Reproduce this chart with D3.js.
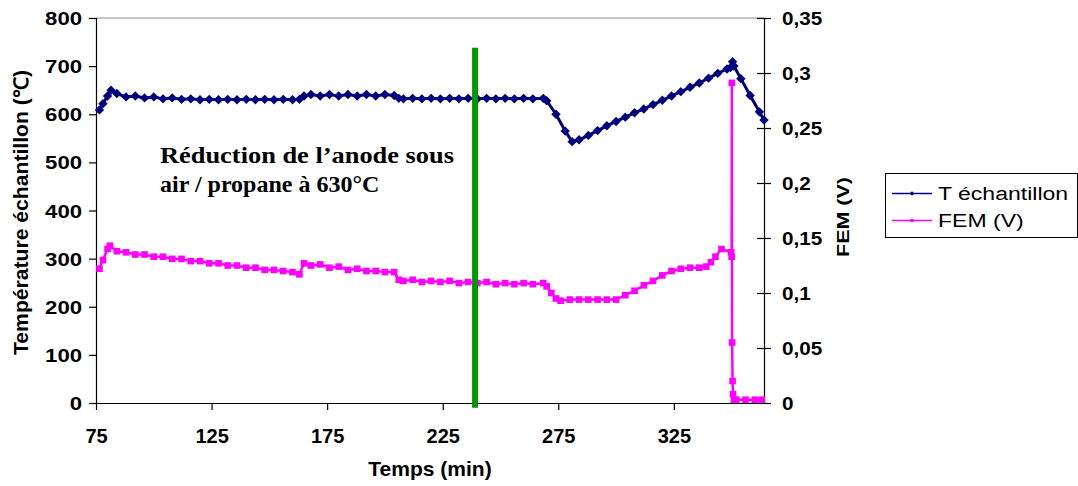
<!DOCTYPE html>
<html>
<head>
<meta charset="utf-8">
<script src="https://cdn.jsdelivr.net/npm/d3@7"></script>
<style>
    body { margin: 0; background: #fff; }
    svg { display: block; }
    .axis text { font-family: Arial, "Liberation Sans", sans-serif; font-weight: bold; }
</style>
</head>
<body>
<script>
// temps (min) et température échantillon (°C)
const tempTime = [76.5, 78, 80, 81.5, 84, 88, 92, 96, 100, 104, 108, 112, 116, 120, 124, 128, 132, 136, 140, 144, 148, 152, 156, 160, 163, 165, 168, 172, 176, 180, 184, 188, 192, 196, 200, 204, 206, 208, 212, 216, 220, 224, 228, 232, 236, 240, 244, 248, 252, 256, 260, 264, 268.5, 270, 274, 278, 281, 284, 288, 292, 296, 300, 304, 308, 312, 316, 320, 324, 328, 332, 336, 340, 344, 348, 349.5, 350.4, 351, 354, 358, 362, 364];
const tempValues = [609, 622, 638, 650, 643, 636, 638, 634, 636, 632, 634, 631, 632, 630, 631, 630, 631, 630, 631, 630, 631, 630, 631, 630, 631, 638, 641, 638, 641, 638, 641, 638, 641, 638, 641, 639, 633, 632, 633, 632, 633, 632, 633, 632, 633, 632, 633, 632, 633, 632, 633, 632, 633, 628, 600, 565, 543, 547, 556, 566, 576, 585, 594, 603, 611, 620, 629, 638, 647, 656, 665, 675, 685, 694, 697, 709, 700, 674, 639, 605, 588];

// temps (min) et FEM (V)
const femTime = [76.5, 78, 80, 81, 84, 88, 92, 96, 100, 104, 108, 112, 116, 120, 124, 128, 132, 136, 140, 144, 148, 152, 156, 160, 163, 165, 168, 172, 176, 180, 184, 188, 192, 196, 200, 204, 206, 208, 212, 216, 220, 224, 228, 232, 236, 240, 244, 248, 252, 256, 260, 264, 268.5, 270, 272, 274, 276, 280, 284, 288, 292, 296, 300, 304, 308, 312, 316, 320, 324, 328, 332, 336, 339, 341, 343, 345.6, 349.8, 350, 350.1, 350.2, 350.4, 350.6, 351, 352, 356, 360, 363];
const femValues = [0.122, 0.130, 0.140, 0.143, 0.138, 0.137, 0.135, 0.135, 0.133, 0.133, 0.131, 0.131, 0.129, 0.129, 0.127, 0.127, 0.125, 0.125, 0.123, 0.123, 0.121, 0.121, 0.120, 0.119, 0.117, 0.127, 0.125, 0.126, 0.123, 0.124, 0.121, 0.122, 0.120, 0.120, 0.119, 0.119, 0.112, 0.111, 0.112, 0.110, 0.111, 0.110, 0.111, 0.109, 0.110, 0.109, 0.110, 0.108, 0.109, 0.108, 0.109, 0.108, 0.109, 0.106, 0.100, 0.095, 0.093, 0.094, 0.094, 0.094, 0.094, 0.094, 0.094, 0.098, 0.102, 0.107, 0.111, 0.116, 0.120, 0.122, 0.123, 0.123, 0.124, 0.128, 0.133, 0.140, 0.137, 0.133, 0.291, 0.055, 0.020, 0.008, 0.003, 0.003, 0.003, 0.003, 0.003];

// ticks
const xTicks = [75, 125, 175, 225, 275, 325];
const tempTicks = [0, 100, 200, 300, 400, 500, 600, 700, 800];
const femTicks = [0, 0.05, 0.1, 0.15, 0.2, 0.25, 0.3, 0.35];

// fin de la réduction (trait vert)
const markerTime = [239];
const markerRange = [-10, 738];

const seriesNames = ["T échantillon", "FEM (V)"];
const noteLines = ["Réduction de l’anode sous", "air / propane à 630°C"];

const W = 1078, H = 486;
const margin = { top: 18, right: 314, bottom: 83, left: 96 };
const w = W - margin.left - margin.right,
    h = H - margin.top - margin.bottom;

const svg = d3.select('body').append('svg')
    .attr('width', W)
    .attr('height', H);

const g = svg.append("g")
    .attr("transform", "translate(" + margin.left + "," + margin.top + ")");

const x = d3.scaleLinear().domain([75, 364]).range([0, w]);
const yT = d3.scaleLinear().domain([0, 800]).range([h, 0]);
const yF = d3.scaleLinear().domain([0, 0.35]).range([h, 0]);

const fmtFr = function (d) { return String(d).replace(".", ","); };

// bord haut de la zone de tracé
g.append("line")
    .attr("x1", 0).attr("x2", w).attr("y1", 0).attr("y2", 0)
    .attr("stroke", "#8c8c8c").attr("stroke-width", 1);

// axe gauche
const axL = g.append("g").attr("class", "axis")
    .call(d3.axisLeft(yT).tickValues(tempTicks).tickSize(7).tickFormat(d3.format("d")));
axL.selectAll("text")
    .attr("x", null).attr("dy", null).attr("text-anchor", "end")
    .attr("font-size", 18).attr("fill", "#000")
    .attr("transform", "translate(-14,6.5) scale(1.23,1)");

// axe droit (ticks croisés)
const axR = g.append("g").attr("class", "axis")
    .attr("transform", "translate(" + w + ",0)")
    .call(d3.axisRight(yF).tickValues(femTicks).tickSizeInner(7).tickSizeOuter(0).tickFormat(fmtFr));
axR.selectAll(".tick line").attr("x1", -7);
axR.selectAll("text")
    .attr("x", null).attr("dy", null).attr("text-anchor", "start")
    .attr("font-size", 18).attr("fill", "#000")
    .attr("transform", "translate(18,6.5) scale(1.15,1)");

// axe bas
const axB = g.append("g").attr("class", "axis")
    .attr("transform", "translate(0," + h + ")")
    .call(d3.axisBottom(x).tickValues(xTicks).tickSizeInner(7).tickSizeOuter(0));
axB.selectAll("text")
    .attr("y", 40).attr("dy", null)
    .attr("font-size", 20).attr("fill", "#000");

g.selectAll(".axis path, .axis line").attr("stroke", "#000").attr("stroke-width", 1.2);

// titres d'axes
svg.append("text")
    .attr("transform", "translate(27.5," + (margin.top + h / 2 + 2) + ") rotate(-90)")
    .attr("text-anchor", "middle")
    .attr("textLength", 285).attr("lengthAdjust", "spacingAndGlyphs")
    .style("font", "bold 20px Arial, 'Liberation Sans', sans-serif")
    .text("Température échantillon (℃)");

svg.append("text")
    .attr("transform", "translate(849," + (margin.top + 199) + ") rotate(-90)")
    .attr("text-anchor", "middle")
    .attr("textLength", 80).attr("lengthAdjust", "spacingAndGlyphs")
    .style("font", "bold 17px Arial, 'Liberation Sans', sans-serif")
    .text("FEM (V)");

svg.append("text")
    .attr("x", margin.left + w / 2).attr("y", 476)
    .attr("text-anchor", "middle")
    .style("font", "bold 21px Arial, 'Liberation Sans', sans-serif")
    .text("Temps (min)");

// séries
const tempData = tempTime.map(function (t, i) { return [t, tempValues[i]]; });
const femData = femTime.map(function (t, i) { return [t, femValues[i]]; });

const lineT = d3.line()
    .x(function (d) { return x(d[0]); })
    .y(function (d) { return yT(d[1]); });
const lineF = d3.line()
    .x(function (d) { return x(d[0]); })
    .y(function (d) { return yF(d[1]); });

g.append("path").datum(femData)
    .attr("d", lineF).attr("fill", "none")
    .attr("stroke", "#ff00ff").attr("stroke-width", 2.5);
g.selectAll(".mF").data(femData).enter().append("path")
    .attr("class", "mF")
    .attr("d", d3.symbol().type(d3.symbolSquare).size(44))
    .attr("transform", function (d) { return "translate(" + x(d[0]) + "," + yF(d[1]) + ")"; })
    .attr("fill", "#ff00ff");

g.append("path").datum(tempData)
    .attr("d", lineT).attr("fill", "none")
    .attr("stroke", "#000080").attr("stroke-width", 3);
g.selectAll(".mT").data(tempData).enter().append("path")
    .attr("class", "mT")
    .attr("d", d3.symbol().type(d3.symbolSquare).size(44))
    .attr("transform", function (d) { return "translate(" + x(d[0]) + "," + yT(d[1]) + ") rotate(45)"; })
    .attr("fill", "#000080");

// trait vert
g.selectAll(".mark").data(markerTime).enter().append("line")
    .attr("x1", function (d) { return x(d); }).attr("x2", function (d) { return x(d); })
    .attr("y1", yT(markerRange[1])).attr("y2", yT(markerRange[0]))
    .attr("stroke", "#009900").attr("stroke-width", 6);

// annotation
svg.selectAll(".note").data(noteLines).enter().append("text")
    .attr("class", "note")
    .attr("x", 160)
    .attr("y", function (d, i) { return 163 + i * 29; })
    .style("font", "bold 24px 'Times New Roman', 'Liberation Serif', serif")
    .text(function (d) { return d; });
svg.select(".note")
    .attr("textLength", 294).attr("lengthAdjust", "spacingAndGlyphs");

// légende
const leg = svg.append("g").attr("transform", "translate(885,173)");
leg.append("rect")
    .attr("x", 0.5).attr("y", 0.5).attr("width", 192).attr("height", 64)
    .attr("fill", "#fff").attr("stroke", "#000").attr("stroke-width", 1);
const legColors = ["#000080", "#ff00ff"];
seriesNames.forEach(function (name, i) {
    const yy = 20.5 + i * 27;
    leg.append("line")
        .attr("x1", 7).attr("x2", 47).attr("y1", yy).attr("y2", yy)
        .attr("stroke", legColors[i]).attr("stroke-width", 1.5);
    leg.append("path")
        .attr("d", d3.symbol().type(d3.symbolSquare).size(10))
        .attr("transform", "translate(27," + yy + ")" + (i === 0 ? " rotate(45)" : ""))
        .attr("fill", legColors[i]);
    leg.append("text")
        .attr("transform", "translate(53," + (yy + 6.5) + ") scale(1.28,1)")
        .style("font", "18px Arial, 'Liberation Sans', sans-serif")
        .text(name);
});
</script>
</body>
</html>
